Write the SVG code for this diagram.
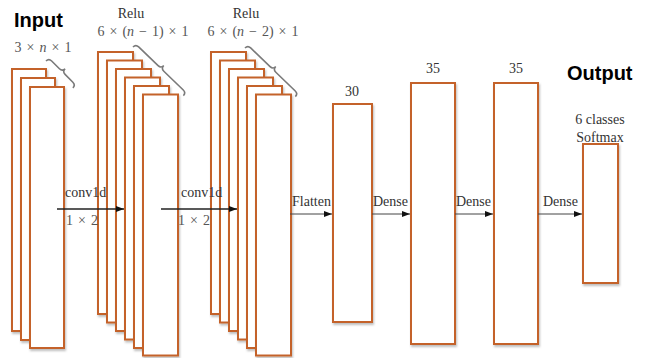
<svg xmlns="http://www.w3.org/2000/svg" width="645" height="358" viewBox="0 0 645 358">
<style>
.box{fill:#fff;stroke:#c4622c;stroke-width:2;filter:url(#sh)}
.lbl{font-family:"Liberation Serif",serif;font-size:14px;fill:#333}
.math{font-family:"Liberation Serif",serif;font-size:14px;fill:#555;word-spacing:1.5px}
.ttl{font-family:"Liberation Sans",Arial,sans-serif;font-size:20px;font-weight:bold;fill:#000}
.brace{fill:none;stroke:#7a7a7a;stroke-width:1.6}
.arr{stroke:#222;stroke-width:1.4;marker-end:url(#ah)}
.arr2{stroke:#444;stroke-width:1;marker-end:url(#ah)}
</style>
<defs>
<filter id="sh" x="-20%" y="-5%" width="150%" height="115%">
<feDropShadow dx="1" dy="2" stdDeviation="1" flood-color="#000" flood-opacity="0.25"/>
</filter>
<marker id="ah" viewBox="0 0 8 6" refX="8" refY="3" markerWidth="8" markerHeight="6" markerUnits="userSpaceOnUse" orient="auto">
<path d="M0,0 L8,3 L0,6 z" fill="#111"/>
</marker>
</defs>
<rect width="645" height="358" fill="#fff"/>

<g id="input">
<rect class="box" x="12" y="69" width="34" height="262"/>
<rect class="box" x="21" y="78" width="34" height="262"/>
<rect class="box" x="30" y="87" width="34" height="261"/>
<path class="brace" transform="translate(46,61) rotate(45)" d="M0,0 Q0,-4 4,-4 L15,-4 Q19,-4 19,-8 Q19,-4 23,-4 L34,-4 Q38,-4 38,0"/>
<text class="ttl" x="14" y="27">Input</text>
<text class="math" x="43" y="52" text-anchor="middle">3 × <tspan font-style="italic">n</tspan> × 1</text>
</g>

<g id="relu1">
<rect class="box" x="98" y="52" width="35" height="262"/>
<rect class="box" x="107" y="60.5" width="35" height="262"/>
<rect class="box" x="116" y="69" width="35" height="262"/>
<rect class="box" x="125" y="77.5" width="35" height="262"/>
<rect class="box" x="134" y="86" width="35" height="262"/>
<rect class="box" x="143" y="94.5" width="35" height="261"/>
<path class="brace" transform="translate(133,47) rotate(44)" d="M0,0 Q0,-4 4,-4 L31,-4 Q35,-4 35,-8 Q35,-4 39,-4 L66,-4 Q70,-4 70,0"/>
<text class="lbl" x="131" y="18" text-anchor="middle">Relu</text>
<text class="math" x="143" y="36" text-anchor="middle">6 × (<tspan font-style="italic">n</tspan> − 1) × 1</text>
</g>

<g id="relu2">
<rect class="box" x="211" y="52" width="35" height="262"/>
<rect class="box" x="220" y="60.5" width="35" height="262"/>
<rect class="box" x="229" y="69" width="35" height="262"/>
<rect class="box" x="238" y="77.5" width="35" height="262"/>
<rect class="box" x="247" y="86" width="35" height="262"/>
<rect class="box" x="256" y="94.5" width="35" height="261"/>
<path class="brace" transform="translate(245,48) rotate(44)" d="M0,0 Q0,-4 4,-4 L31,-4 Q35,-4 35,-8 Q35,-4 39,-4 L66,-4 Q70,-4 70,0"/>
<text class="lbl" x="246" y="18" text-anchor="middle">Relu</text>
<text class="math" x="253" y="36" text-anchor="middle">6 × (<tspan font-style="italic">n</tspan> − 2) × 1</text>
</g>

<g id="dense30">
<rect class="box" x="333" y="104" width="39" height="218"/>
<text class="lbl" x="352" y="96" text-anchor="middle">30</text>
</g>

<g id="dense35a">
<rect class="box" x="411" y="83" width="44" height="261"/>
<text class="lbl" x="433" y="73" text-anchor="middle">35</text>
</g>

<g id="dense35b">
<rect class="box" x="494" y="83" width="44" height="261"/>
<text class="lbl" x="516" y="73" text-anchor="middle">35</text>
</g>

<g id="output">
<rect class="box" x="583" y="144" width="35" height="139"/>
<text class="ttl" x="567" y="80">Output</text>
<text class="lbl" x="600" y="124" text-anchor="middle">6 classes</text>
<text class="lbl" x="600" y="142" text-anchor="middle">Softmax</text>
</g>

<g id="connectors">
<line class="arr" x1="57" y1="209" x2="124" y2="209"/>
<text class="lbl" x="65" y="197">conv1d</text>
<text class="math" x="66" y="225">1 × 2</text>
<line class="arr" x1="161" y1="209" x2="237" y2="209"/>
<text class="lbl" x="181" y="197">conv1d</text>
<text class="math" x="178" y="225">1 × 2</text>
<line class="arr2" x1="290" y1="214" x2="332" y2="214"/>
<text class="lbl" x="292" y="206">Flatten</text>
<line class="arr2" x1="372" y1="214" x2="410" y2="214"/>
<text class="lbl" x="373" y="206">Dense</text>
<line class="arr2" x1="455" y1="214" x2="493" y2="214"/>
<text class="lbl" x="456" y="206">Dense</text>
<line class="arr2" x1="538" y1="214" x2="582" y2="214"/>
<text class="lbl" x="543" y="206">Dense</text>
</g>
</svg>
